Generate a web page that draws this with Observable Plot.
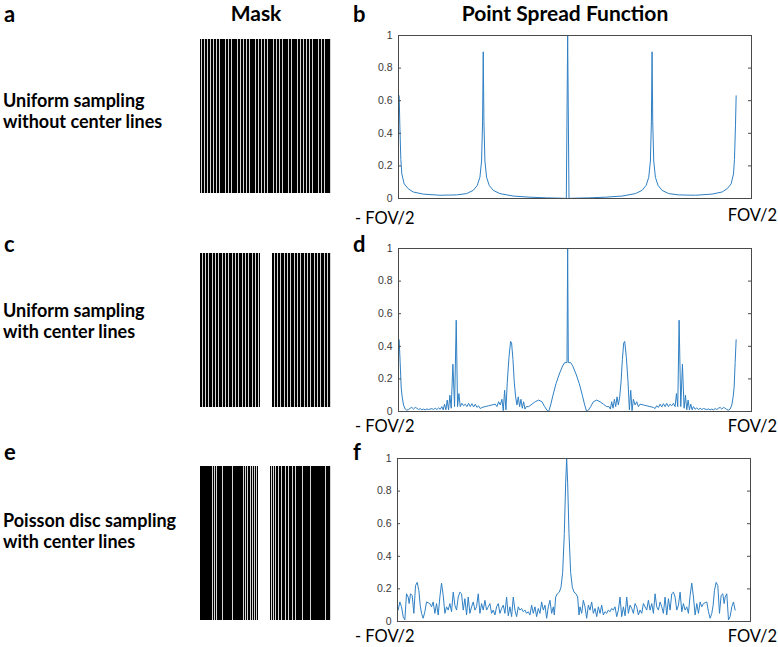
<!DOCTYPE html>
<html><head><meta charset="utf-8">
<script src="https://cdn.jsdelivr.net/npm/d3@7"></script>
<script src="https://cdn.jsdelivr.net/npm/@observablehq/plot@0.6"></script>
<style>
body{margin:0;background:#fff;}
#fig{position:relative;width:778px;height:647px;overflow:hidden;background:#fff;}
</style></head><body><div id="fig"></div>
<script>
// ---------- data ----------
const colTitles = ["Mask", "Point Spread Function"];
const panelLetters = ["a", "b", "c", "d", "e", "f"];
const rowTitles = [
  ["Uniform sampling", "without center lines"],
  ["Uniform sampling", "with center lines"],
  ["Poisson disc sampling", "with center lines"]
];
const fovLabels = ["- FOV/2", "FOV/2"];
const yTicks = [0, 0.2, 0.4, 0.6, 0.8, 1];

// masks: black block extents and sampled (white) line columns, in mask columns (0..131)
const maskA_start = [0], maskA_end = [131];
const maskA_lines = [1,4,7,10,13,16,19,25,28,31,37,40,43,46,49,55,58,61,64,67,73,76,79,82,88,91,97,100,103,106,109,112,118,121,124,130];
const maskC_start = [0, 72], maskC_end = [60, 131];
const maskC_lines = [2,5,8,12,15,18,22,25,28,32,35,38,42,45,48,52,55,58,74,77,80,84,87,90,94,97,100,104,107,110,114,117,120,124,127,130];
const maskE_start = [0, 70], maskE_end = [58, 131];
const maskE_lines = [12,14,16,22,32,43,45,47,50,52,54,56,71,73,75,78,81,85,88,92,95,102,110,125,130];

// PSF b (position in FOV units, normalized magnitude)
const psfB_x = [-0.505,-0.503,-0.5,-0.497,-0.49,-0.478,-0.463,-0.433,-0.383,-0.333,-0.303,-0.283,-0.271,-0.263,-0.258,-0.255,-0.253,-0.251,-0.248,-0.243,-0.235,-0.223,-0.203,-0.163,-0.113,-0.063,-0.023,-0.006,-0.004,0,0.004,0.006,0.023,0.063,0.113,0.163,0.203,0.223,0.235,0.243,0.248,0.251,0.253,0.255,0.258,0.263,0.271,0.283,0.303,0.333,0.383,0.433,0.463,0.478,0.49,0.497,0.5,0.503,0.505];
const psfB_y = [0.63,0.45,0.24,0.15,0.09,0.06,0.04,0.027,0.02,0.022,0.03,0.05,0.08,0.13,0.23,0.47,0.9,0.47,0.23,0.13,0.08,0.05,0.03,0.015,0.008,0.004,0.002,0.001,0,1,0,0.001,0.002,0.004,0.008,0.015,0.03,0.05,0.08,0.13,0.23,0.47,0.9,0.47,0.23,0.13,0.08,0.05,0.03,0.022,0.02,0.027,0.04,0.06,0.09,0.15,0.24,0.45,0.63];

// PSF d
const psfD_x = [-0.505,-0.502,-0.499,-0.496,-0.492,-0.487,-0.482,-0.477,-0.472,-0.467,-0.462,-0.457,-0.452,-0.447,-0.442,-0.437,-0.432,-0.427,-0.422,-0.417,-0.407,-0.402,-0.397,-0.392,-0.387,-0.382,-0.377,-0.373,-0.369,-0.365,-0.361,-0.357,-0.353,-0.349,-0.344,-0.339,-0.334,-0.330,-0.326,-0.322,-0.317,-0.312,-0.307,-0.302,-0.297,-0.292,-0.287,-0.282,-0.277,-0.272,-0.267,-0.262,-0.257,-0.247,-0.237,-0.227,-0.217,-0.212,-0.207,-0.202,-0.197,-0.193,-0.189,-0.185,-0.181,-0.176,-0.171,-0.168,-0.164,-0.160,-0.156,-0.152,-0.148,-0.144,-0.140,-0.136,-0.132,-0.128,-0.124,-0.117,-0.107,-0.097,-0.087,-0.077,-0.069,-0.062,-0.057,-0.051,-0.044,-0.035,-0.025,-0.015,-0.009,-0.002,0,
  0.002,0.009,0.015,0.025,0.035,0.044,0.051,0.057,0.062,0.069,0.077,0.087,0.097,0.107,0.117,0.124,0.128,0.132,0.136,0.140,0.144,0.148,0.152,0.156,0.160,0.164,0.168,0.171,0.176,0.181,0.185,0.189,0.193,0.197,0.202,0.207,0.212,0.217,0.227,0.237,0.247,0.257,0.262,0.267,0.272,0.277,0.282,0.287,0.292,0.297,0.302,0.307,0.312,0.317,0.322,0.326,0.330,0.334,0.339,0.344,0.349,0.353,0.357,0.361,0.365,0.369,0.373,0.377,0.382,0.387,0.392,0.397,0.402,0.407,0.417,0.422,0.427,0.432,0.437,0.442,0.447,0.452,0.457,0.462,0.467,0.472,0.477,0.482,0.487,0.492,0.496,0.499,0.502,0.505];
const psfD_y = [0.44,0.30,0.15,0.09,0.04,0.015,0.008,0.012,0.02,0.025,0.015,0.025,0.02,0.012,0.018,0.01,0.015,0.01,0.016,0.012,0.018,0.012,0.02,0.012,0.022,0.014,0.03,0.01,0.045,0.01,0.07,0.01,0.10,0.02,0.29,0.03,0.56,0.03,0.11,0.03,0.05,0.035,0.045,0.03,0.05,0.03,0.048,0.028,0.045,0.025,0.035,0.018,0.025,0.03,0.035,0.04,0.045,0.03,0.06,0.04,0.075,0.005,0.13,0.01,0.18,0.33,0.43,0.42,0.32,0.18,0.09,0.04,0.09,0.03,0.075,0.02,0.06,0.015,0.03,0.03,0.045,0.06,0.07,0.06,0.03,0.008,0.0,0.04,0.10,0.17,0.23,0.28,0.30,0.30,1.0,
  0.30,0.30,0.28,0.23,0.17,0.10,0.04,0.0,0.008,0.03,0.06,0.07,0.06,0.045,0.03,0.03,0.015,0.06,0.02,0.075,0.03,0.09,0.04,0.09,0.18,0.32,0.42,0.43,0.33,0.18,0.01,0.13,0.005,0.075,0.04,0.06,0.03,0.045,0.04,0.035,0.03,0.025,0.018,0.035,0.025,0.045,0.028,0.048,0.03,0.05,0.03,0.045,0.035,0.05,0.03,0.11,0.03,0.56,0.03,0.29,0.02,0.10,0.01,0.07,0.01,0.045,0.01,0.03,0.014,0.022,0.012,0.02,0.012,0.018,0.012,0.016,0.01,0.015,0.01,0.018,0.012,0.02,0.025,0.015,0.025,0.02,0.012,0.008,0.015,0.04,0.09,0.15,0.30,0.44];

// PSF f
const psfF_x = [-0.505,-0.5,-0.495,-0.49,-0.485,-0.48,-0.475,-0.472,-0.468,-0.463,-0.458,-0.453,-0.448,-0.443,-0.439,-0.435,-0.43,-0.425,-0.42,-0.415,-0.41,-0.405,-0.4,-0.395,-0.39,-0.385,-0.38,-0.375,-0.37,-0.365,-0.36,-0.355,-0.35,-0.345,-0.34,-0.335,-0.33,-0.325,-0.32,-0.315,-0.31,-0.305,-0.3,-0.295,-0.29,-0.285,-0.28,-0.275,-0.27,-0.265,-0.26,-0.255,-0.25,-0.245,-0.24,-0.235,-0.23,-0.225,-0.22,-0.215,-0.21,-0.205,-0.2,-0.195,-0.19,-0.185,-0.18,-0.175,-0.17,-0.165,-0.16,-0.155,-0.15,-0.145,-0.14,-0.135,-0.13,-0.125,-0.12,-0.115,-0.11,-0.105,-0.1,-0.095,-0.09,-0.085,-0.08,-0.075,-0.07,-0.065,-0.06,-0.055,-0.05,-0.045,-0.04,-0.037,-0.033,-0.028,-0.022,-0.017,-0.012,-0.007,-0.003,0,
  0.003,0.007,0.012,0.017,0.022,0.028,0.033,0.037,0.04,0.045,0.05,0.055,0.06,0.065,0.07,0.075,0.08,0.085,0.09,0.095,0.1,0.105,0.11,0.115,0.12,0.125,0.13,0.135,0.14,0.145,0.15,0.155,0.16,0.165,0.17,0.175,0.18,0.185,0.19,0.195,0.2,0.205,0.21,0.215,0.22,0.225,0.23,0.235,0.24,0.245,0.25,0.255,0.26,0.265,0.27,0.275,0.28,0.285,0.29,0.295,0.3,0.305,0.31,0.315,0.32,0.325,0.33,0.335,0.34,0.345,0.35,0.355,0.36,0.365,0.37,0.375,0.38,0.385,0.39,0.395,0.4,0.405,0.41,0.415,0.42,0.425,0.43,0.435,0.439,0.443,0.448,0.453,0.458,0.463,0.468,0.472,0.475,0.48,0.485,0.49,0.495,0.5,0.505];
const psfF_y = [0.07,0.12,0.09,0.03,0.01,0.17,0.15,0.11,0.17,0.16,0.05,0.22,0.24,0.19,0.10,0.05,0.02,0.06,0.12,0.115,0.11,0.09,0.12,0.05,0.11,0.04,0.15,0.235,0.16,0.05,0.09,0.07,0.11,0.06,0.18,0.10,0.07,0.15,0.18,0.17,0.07,0.14,0.04,0.15,0.05,0.09,0.12,0.07,0.09,0.17,0.05,0.11,0.07,0.13,0.07,0.09,0.11,0.05,0.07,0.04,0.09,0.11,0.05,0.08,0.10,0.05,0.15,0.035,0.09,0.03,0.15,0.07,0.03,0.09,0.07,0.08,0.06,0.07,0.05,0.06,0.04,0.10,0.05,0.09,0.03,0.08,0.05,0.12,0.07,0.10,0.02,0.09,0.13,0.05,0.09,0.04,0.15,0.17,0.18,0.21,0.30,0.54,0.85,1.0,
  0.85,0.54,0.30,0.21,0.18,0.17,0.15,0.04,0.09,0.05,0.13,0.09,0.02,0.10,0.07,0.12,0.05,0.08,0.03,0.09,0.05,0.10,0.04,0.06,0.05,0.07,0.06,0.08,0.07,0.09,0.03,0.07,0.15,0.03,0.09,0.035,0.15,0.05,0.10,0.08,0.05,0.11,0.09,0.04,0.07,0.05,0.11,0.09,0.07,0.13,0.07,0.11,0.05,0.17,0.09,0.07,0.12,0.09,0.05,0.15,0.04,0.14,0.07,0.17,0.18,0.15,0.07,0.10,0.18,0.06,0.11,0.07,0.09,0.05,0.16,0.235,0.15,0.04,0.11,0.05,0.12,0.09,0.11,0.115,0.12,0.06,0.02,0.05,0.10,0.19,0.24,0.22,0.05,0.16,0.17,0.11,0.15,0.17,0.01,0.03,0.09,0.12,0.07];

// ---------- drawing ----------
const fig = document.getElementById("fig");
const lineColor = "#2f80c4";
const axisColor = "#4a4a4a";
const tickColor = "#3a3a3a";
const xDomain = [-0.507, 0.551];
const fontFam = "Lato, 'Open Sans', sans-serif";

function psfChart(xs, ys, left, top) {
  const data = xs.map((x, i) => ({x, y: ys[i]}));
  const ml = 40, mr = 8, mt = 10, mb = 6, pw = 353, ph = 163;
  const chart = Plot.plot({
    width: ml + pw + mr, height: mt + ph + mb,
    marginLeft: ml, marginRight: mr, marginTop: mt, marginBottom: mb,
    x: {domain: xDomain, axis: null},
    y: {domain: [0, 1]},
    style: {background: "transparent", fontFamily: "'Liberation Sans', Arial, sans-serif"},
    marks: [
      Plot.line(data, {x: "x", y: "y", stroke: lineColor, strokeWidth: 1}),
      Plot.tickY(yTicks, {y: d => d, stroke: axisColor, insetRight: pw - 3}),
      Plot.tickY(yTicks, {y: d => d, stroke: axisColor, insetLeft: pw - 3}),
      Plot.frame({stroke: axisColor}),
      Plot.axisY({ticks: yTicks, tickFormat: d => String(d), tickSize: 0, tickPadding: 6, fontSize: 10.5, color: tickColor, label: null})
    ]
  });
  chart.style.position = "absolute";
  chart.style.left = (left - ml) + "px";
  chart.style.top = (top - mt) + "px";
  fig.appendChild(chart);
}

function maskChart(starts, ends, lines, left, top) {
  const blocks = starts.map((s, i) => ({s, e: ends[i]}));
  const chart = Plot.plot({
    width: 131, height: 154, margin: 0,
    x: {domain: [0, 131], axis: null},
    y: {domain: [0, 1], axis: null},
    style: {background: "transparent"},
    marks: [
      Plot.rect(blocks, {x1: "s", x2: "e", y1: 0, y2: 1, fill: "black"}),
      Plot.rect(lines, {x1: d => d, x2: d => d + 1, y1: 0, y2: 1, fill: "#d4d4d4"})
    ]
  });
  chart.style.position = "absolute";
  chart.style.left = left + "px";
  chart.style.top = top + "px";
  fig.appendChild(chart);
}

maskChart(maskA_start, maskA_end, maskA_lines, 200, 39);
maskChart(maskC_start, maskC_end, maskC_lines, 200, 253);
maskChart(maskE_start, maskE_end, maskE_lines, 200, 466);

psfChart(psfB_x, psfB_y, 398, 35);
psfChart(psfD_x, psfD_y, 398, 248);
psfChart(psfF_x, psfF_y, 397, 458);

// text overlay
const svg = d3.select(fig).append("svg")
  .attr("width", 778).attr("height", 647)
  .style("position", "absolute").style("left", 0).style("top", 0)
  .style("font-family", fontFam);

function txt(s, x, y, size, weight, anchor) {
  svg.append("text").attr("x", x).attr("y", y)
    .attr("font-size", size).attr("font-weight", weight)
    .attr("text-anchor", anchor || "start").attr("fill", "#000").text(s);
}

txt(colTitles[0], 256, 21, 21, "bold", "middle");
txt(colTitles[1], 565, 21, 21, "bold", "middle");

const rowBase = [22, 252, 460];
rowBase.forEach((b, i) => {
  txt(panelLetters[2 * i], 4, b, 22, "bold");
  txt(panelLetters[2 * i + 1], 353, b, 22, "bold");
});
const titleBase = [107, 317, 527];
titleBase.forEach((b, i) => {
  txt(rowTitles[i][0], 3, b, 18, "bold");
  txt(rowTitles[i][1], 3, b + 21, 18, "bold");
});
const fovBase = [[224, 221], [432, 432], [642, 642]];
fovBase.forEach(([l, r]) => {
  txt(fovLabels[0], 355, l, 16.5, "normal");
  txt(fovLabels[1], 777, r, 16.5, "normal", "end");
});
</script></body></html>
